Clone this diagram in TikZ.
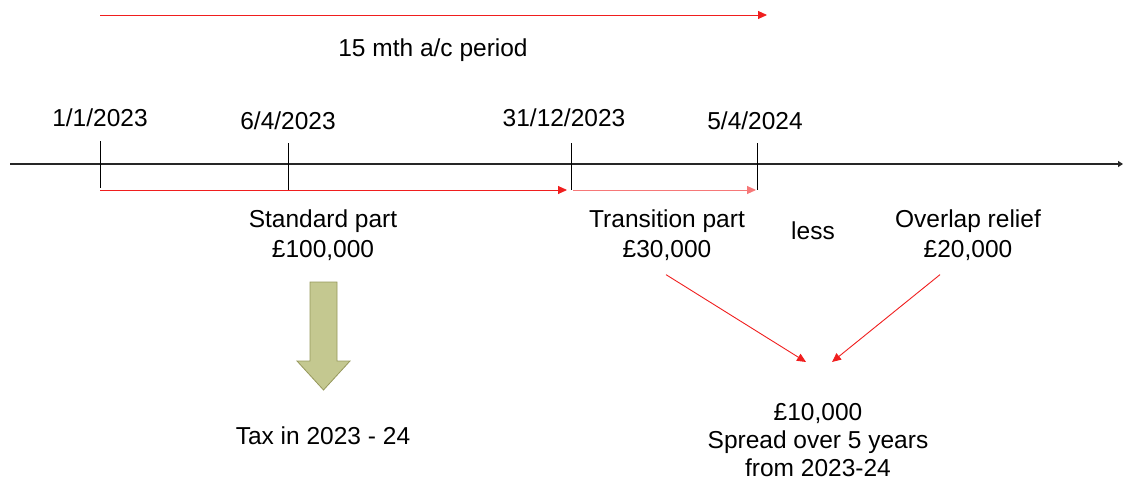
\documentclass[tikz,border=0pt]{standalone}
\usepackage{fontspec}
\setmainfont{Liberation Sans}
\usetikzlibrary{arrows.meta}
\definecolor{olivefill}{RGB}{196,200,144}
\definecolor{oliveline}{RGB}{150,152,92}
\definecolor{axred}{RGB}{240,30,30}
\tikzset{
  lbl/.style={inner sep=0pt, font=\fontsize{24.5}{30}\selectfont, align=center},
  redarrow/.style={draw=axred, line width=0.9pt, -{Triangle[length=9pt,width=8pt]}},
  tick/.style={draw=black, line width=0.9pt},
  axis/.style={draw=black!85, line width=1.4pt, -{Triangle[length=5pt,width=6pt]}}
}
\begin{document}
\begin{tikzpicture}[x=1pt,y=-1pt]
\useasboundingbox (0,0) rectangle (1123,484);
% top period arrow
\coordinate (pstart) at (100,15);
\coordinate (pend) at (767,15);
\draw[redarrow] (pstart) -- (pend);
\node[lbl] (period) at (433,50) {15 mth a/c period};
% axis
\coordinate (axs) at (10,164);
\coordinate (axe) at (1123,164);
\draw[axis] (axs) -- (axe);
% ticks
\coordinate (t1a) at (100,141); \coordinate (t1b) at (100,188);
\coordinate (t2a) at (288,143); \coordinate (t2b) at (288,190);
\coordinate (t3a) at (571,143); \coordinate (t3b) at (571,190);
\coordinate (t4a) at (757,143); \coordinate (t4b) at (757,190);
\draw[tick] (t1a) -- (t1b);
\draw[tick] (t2a) -- (t2b);
\draw[tick] (t3a) -- (t3b);
\draw[tick] (t4a) -- (t4b);
% dates
\node[lbl] (d1) at (100,118) {1/1/2023};
\node[lbl] (d2) at (288,121) {6/4/2023};
\node[lbl] (d3) at (564,118) {31/12/2023};
\node[lbl] (d4) at (755,121) {5/4/2024};
% period arrows on axis
\coordinate (s1) at (100,190); \coordinate (e1) at (567,190);
\coordinate (s2) at (573,190); \coordinate (e2) at (756,190);
\draw[redarrow] (s1) -- (e1);
\draw[redarrow, draw=axred!60] (s2) -- (e2);
% labels
\node[lbl] (std) at (323,235) {Standard part\\£100,000};
\node[lbl] (trn) at (667,235) {Transition part\\£30,000};
\node[lbl] (less) at (813,231) {less};
\node[lbl] (ovl) at (968,235) {Overlap relief\\£20,000};
% olive arrow
\draw[fill=olivefill, draw=oliveline, line width=0.8pt]
  (310,282) -- (337,282) -- (337,361) -- (350,361) -- (323.5,390) -- (297,361) -- (310,361) -- cycle;
\node[lbl] (tax) at (323,436) {Tax in 2023 - 24};
% result
\node[lbl, font=\fontsize{24.5}{28}\selectfont] (res) at (818,440) {£10,000\\Spread over 5 years\\from 2023-24};
\coordinate (m1) at (806,362);
\coordinate (m2) at (832,362);
\draw[redarrow] ([xshift=-1pt,yshift=-14pt]trn.south) -- (m1);
\draw[redarrow] ([xshift=-28pt,yshift=-14pt]ovl.south) -- (m2);
\end{tikzpicture}
\end{document}
